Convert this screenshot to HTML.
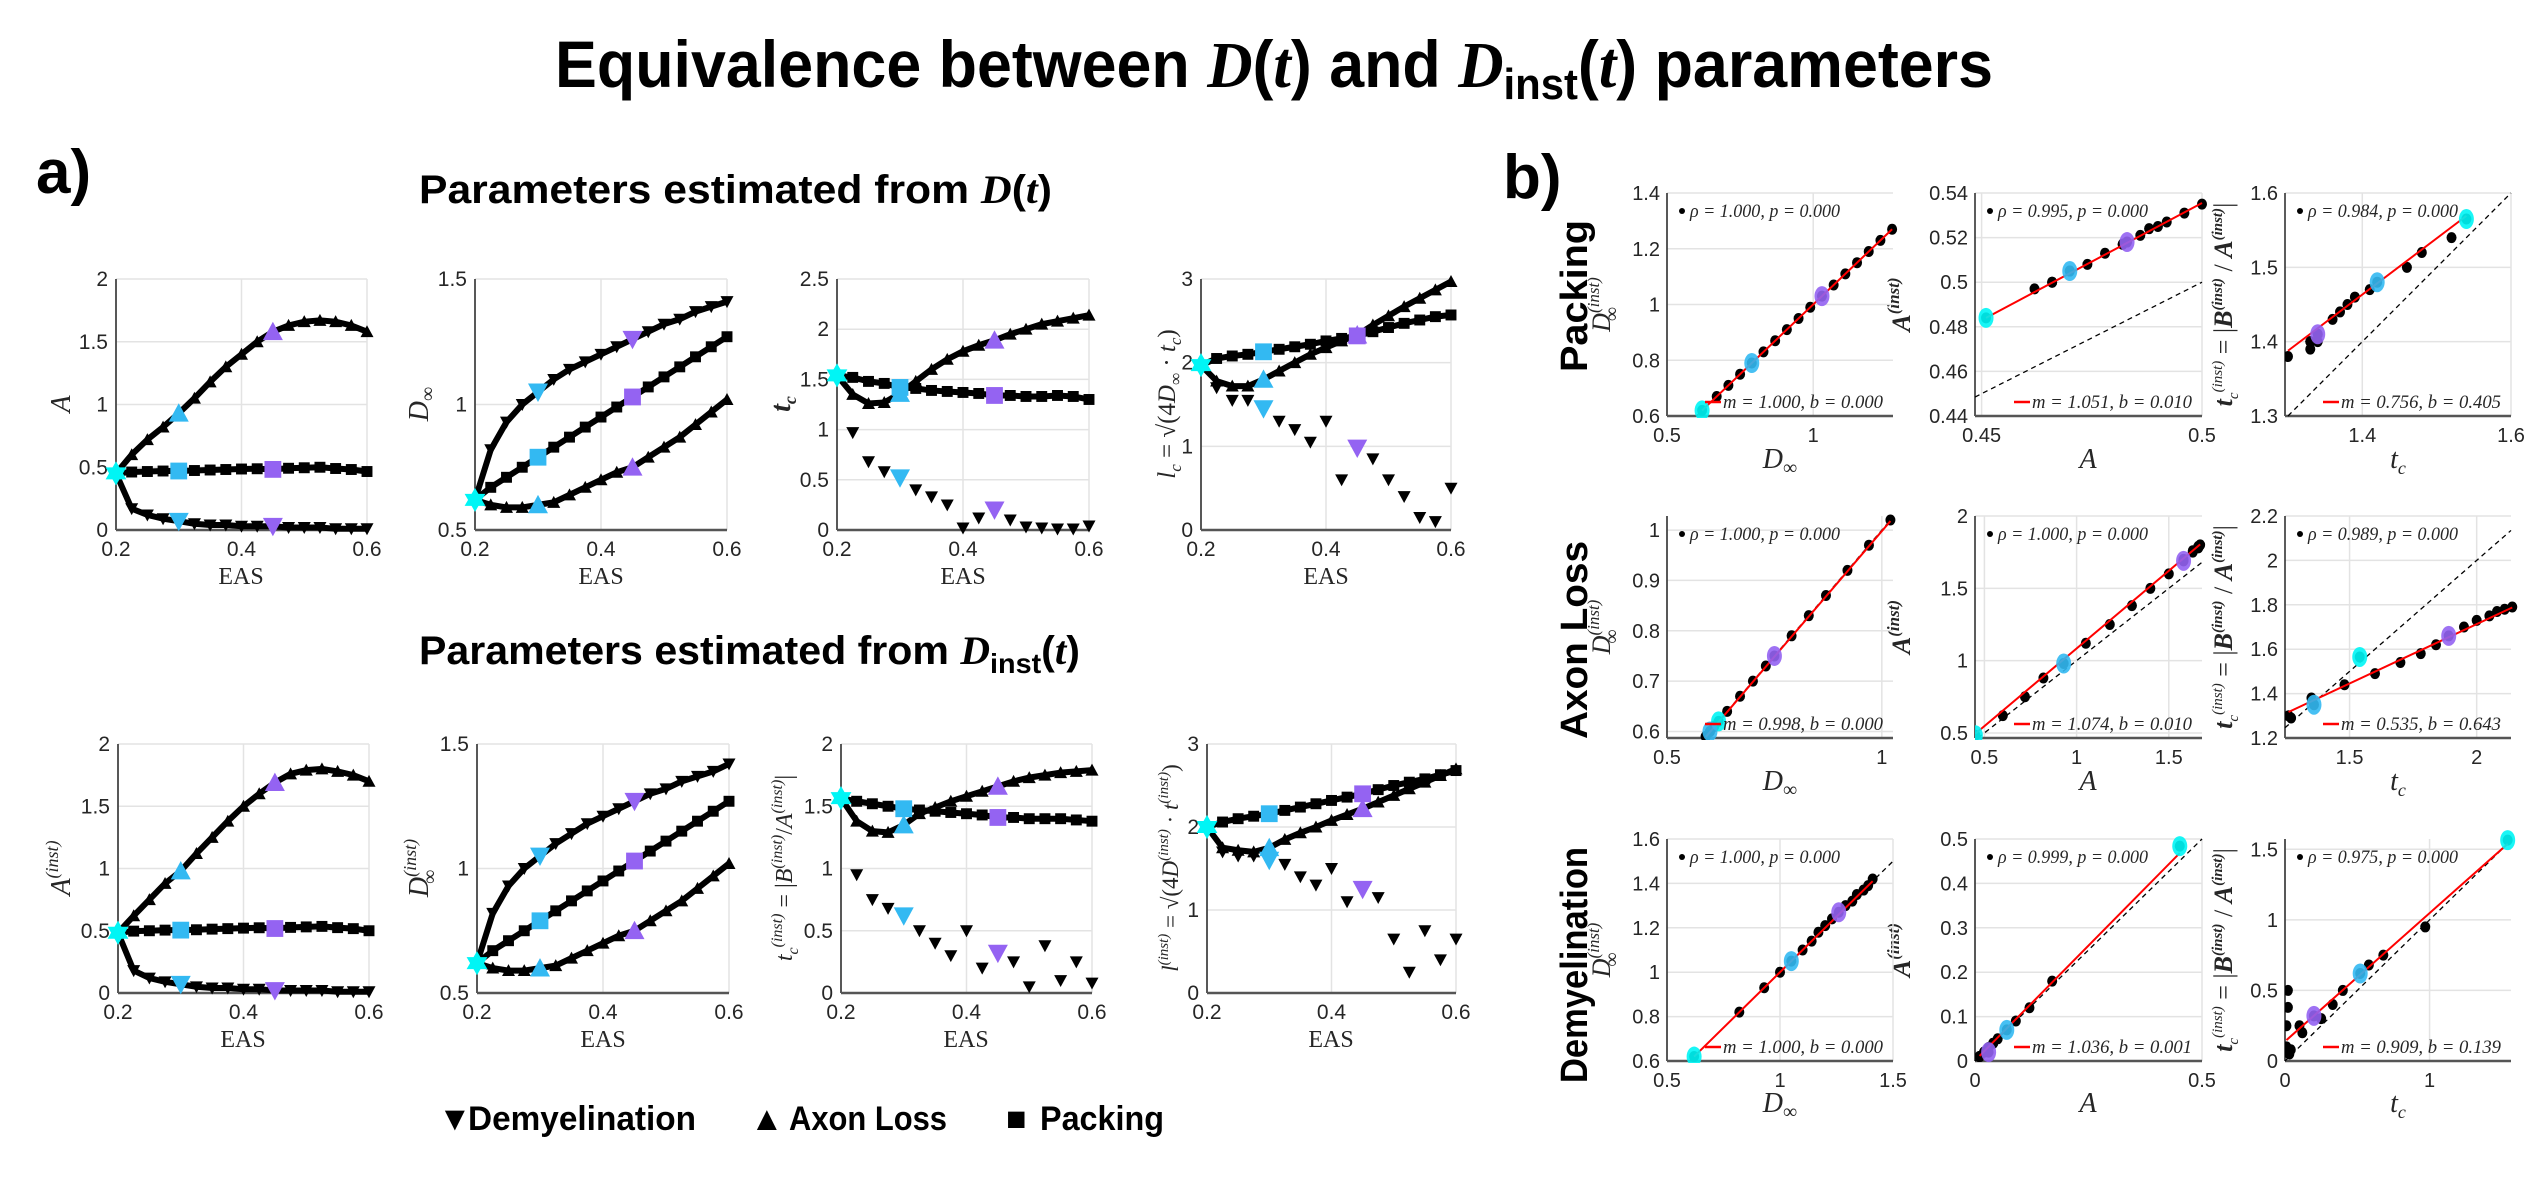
<!DOCTYPE html>
<html><head><meta charset="utf-8"><style>
html,body{margin:0;padding:0;background:#fff;}
svg{display:block;}
.tk{font-family:"Liberation Sans",sans-serif;font-size:21px;fill:#262626;}
.bt{font-family:"Liberation Sans",sans-serif;font-size:20px;fill:#262626;}
.ser{font-family:"Liberation Serif",serif;fill:#262626;}
.hd{font-family:"Liberation Sans",sans-serif;font-weight:bold;fill:#000;}
</style></head><body>
<svg id="fig" width="2545" height="1179" viewBox="0 0 2545 1179" xmlns="http://www.w3.org/2000/svg">
<rect x="0" y="0" width="2545" height="1179" fill="#fff"/>
<text class="hd" x="555" y="87" font-size="66" textLength="1438" lengthAdjust="spacingAndGlyphs">Equivalence between <tspan font-family="Liberation Serif" font-style="italic">D</tspan>(<tspan font-family="Liberation Serif" font-style="italic">t</tspan>) and <tspan font-family="Liberation Serif" font-style="italic">D</tspan><tspan font-size="44" dy="12">inst</tspan><tspan dy="-12">(</tspan><tspan font-family="Liberation Serif" font-style="italic">t</tspan>) parameters</text>
<text class="hd" x="36" y="193" font-size="62">a)</text>
<text class="hd" x="1503" y="198" font-size="62">b)</text>
<text class="hd" x="419" y="203" font-size="40" textLength="633" lengthAdjust="spacingAndGlyphs">Parameters estimated from <tspan font-family="Liberation Serif" font-style="italic">D</tspan>(<tspan font-family="Liberation Serif" font-style="italic">t</tspan>)</text>
<text class="hd" x="419" y="664" font-size="40" textLength="661" lengthAdjust="spacingAndGlyphs">Parameters estimated from <tspan font-family="Liberation Serif" font-style="italic">D</tspan><tspan font-size="28" dy="9">inst</tspan><tspan dy="-9">(</tspan><tspan font-family="Liberation Serif" font-style="italic">t</tspan>)</text>

<text class="ser" x="241" y="584" font-size="24" text-anchor="middle">EAS</text>
<text class="ser" x="601" y="584" font-size="24" text-anchor="middle">EAS</text>
<text class="ser" x="963" y="584" font-size="24" text-anchor="middle">EAS</text>
<text class="ser" x="1326" y="584" font-size="24" text-anchor="middle">EAS</text>
<text class="ser" x="243" y="1047" font-size="24" text-anchor="middle">EAS</text>
<text class="ser" x="603" y="1047" font-size="24" text-anchor="middle">EAS</text>
<text class="ser" x="966" y="1047" font-size="24" text-anchor="middle">EAS</text>
<text class="ser" x="1331" y="1047" font-size="24" text-anchor="middle">EAS</text>

<text class="ser" font-size="28" font-style="italic" text-anchor="middle" transform="translate(70 404) rotate(-90)">A</text>
<text class="ser" font-size="28" font-style="italic" text-anchor="middle" transform="translate(428 404) rotate(-90)">D<tspan font-size="20" dy="6" font-style="normal">∞</tspan></text>
<text class="ser" font-size="28" font-style="italic" font-weight="bold" text-anchor="middle" transform="translate(790 404) rotate(-90)">t<tspan font-size="18" dy="6">c</tspan></text>
<text class="ser" font-size="25" font-style="italic" text-anchor="middle" transform="translate(1175 404) rotate(-90)">l<tspan font-size="17" dy="6">c</tspan><tspan dy="-6" font-style="normal"> = √(4</tspan>D<tspan font-size="17" dy="6" font-style="normal">∞</tspan><tspan dy="-6" font-style="normal"> · </tspan>t<tspan font-size="17" dy="6">c</tspan><tspan dy="-6" font-style="normal">)</tspan></text>
<text class="ser" font-size="28" font-style="italic" text-anchor="middle" transform="translate(70 868) rotate(-90)">A<tspan font-size="18" dy="-12">(inst)</tspan></text>
<text class="ser" font-size="28" font-style="italic" text-anchor="middle" transform="translate(428 868) rotate(-90)">D<tspan font-size="18" dy="-12">(inst)</tspan><tspan font-size="20" dx="-45" dy="20" font-style="normal">∞</tspan></text>
<text class="ser" font-size="24" font-style="italic" text-anchor="middle" transform="translate(792 868) rotate(-90)">t<tspan font-size="16" dy="6">c</tspan><tspan font-size="16" dy="-16">(inst)</tspan><tspan dy="10" font-style="normal"> = |</tspan>B<tspan font-size="16" dy="-10">(inst)</tspan><tspan dy="10" font-style="normal">/</tspan>A<tspan font-size="16" dy="-10">(inst)</tspan><tspan dy="10" font-style="normal">|</tspan></text>
<text class="ser" font-size="23" font-style="italic" text-anchor="middle" transform="translate(1178 868) rotate(-90)">l<tspan font-size="15" dy="-10">(inst)</tspan><tspan dy="10" font-style="normal"> = √(4</tspan>D<tspan font-size="15" dy="-10">(inst)</tspan><tspan dy="10" font-style="normal"> · </tspan>t<tspan font-size="15" dy="-10">(inst)</tspan><tspan dy="10" font-style="normal">)</tspan></text>

<text class="hd" font-size="38" text-anchor="middle" textLength="152" lengthAdjust="spacingAndGlyphs" transform="translate(1587 296) rotate(-90)">Packing</text>
<text class="hd" font-size="38" text-anchor="middle" textLength="198" lengthAdjust="spacingAndGlyphs" transform="translate(1587 640) rotate(-90)">Axon Loss</text>
<text class="hd" font-size="38" text-anchor="middle" textLength="236" lengthAdjust="spacingAndGlyphs" transform="translate(1587 965) rotate(-90)">Demyelination</text>

<text class="ser" x="1780" y="468" font-size="28" font-style="italic" text-anchor="middle">D<tspan font-size="20" dy="6" font-style="normal">∞</tspan></text>
<text class="ser" x="2088" y="468" font-size="28" font-style="italic" text-anchor="middle">A</text>
<text class="ser" x="2398" y="468" font-size="28" font-style="italic" text-anchor="middle">t<tspan font-size="18" dy="6">c</tspan></text>
<text class="ser" x="1780" y="790" font-size="28" font-style="italic" text-anchor="middle">D<tspan font-size="20" dy="6" font-style="normal">∞</tspan></text>
<text class="ser" x="2088" y="790" font-size="28" font-style="italic" text-anchor="middle">A</text>
<text class="ser" x="2398" y="790" font-size="28" font-style="italic" text-anchor="middle">t<tspan font-size="18" dy="6">c</tspan></text>
<text class="ser" x="1780" y="1112" font-size="28" font-style="italic" text-anchor="middle">D<tspan font-size="20" dy="6" font-style="normal">∞</tspan></text>
<text class="ser" x="2088" y="1112" font-size="28" font-style="italic" text-anchor="middle">A</text>
<text class="ser" x="2398" y="1112" font-size="28" font-style="italic" text-anchor="middle">t<tspan font-size="18" dy="6">c</tspan></text>

<g id="bylabels"></g>

<g>
<text class="hd" x="438" y="1130" font-size="34">▼</text>
<text class="hd" x="468" y="1130" font-size="34" textLength="228" lengthAdjust="spacingAndGlyphs">Demyelination</text>
<text class="hd" x="750" y="1130" font-size="34">▲</text>
<text class="hd" x="789" y="1130" font-size="34" textLength="158" lengthAdjust="spacingAndGlyphs">Axon Loss</text>
<text class="hd" x="1006" y="1130" font-size="34">■</text>
<text class="hd" x="1040" y="1130" font-size="34" textLength="124" lengthAdjust="spacingAndGlyphs">Packing</text>
</g>
<g id="plots"></g>
</svg>
<script>
const EAS = [0.2,0.225,0.25,0.275,0.3,0.325,0.35,0.375,0.4,0.425,0.45,0.475,0.5,0.525,0.55,0.575,0.6];
const A_axon = [0.451,0.6,0.72,0.82,0.93,1.05,1.18,1.3,1.4,1.5,1.58,1.63,1.66,1.67,1.66,1.63,1.58];
const A_pack = [0.451,0.462,0.466,0.47,0.47,0.474,0.478,0.482,0.486,0.488,0.483,0.492,0.496,0.5,0.49,0.482,0.466];
const A_demy = [0.451,0.17,0.12,0.09,0.07,0.05,0.04,0.04,0.03,0.03,0.03,0.02,0.02,0.02,0.01,0.01,0.01];
const Dinf_demy = [0.62,0.82,0.93,1.0,1.05,1.1,1.14,1.17,1.2,1.23,1.26,1.29,1.32,1.34,1.37,1.39,1.41];
const Dinf_pack = [0.62,0.67,0.71,0.75,0.79,0.83,0.87,0.91,0.95,0.99,1.03,1.07,1.11,1.15,1.19,1.23,1.27];
const Dinf_axon = [0.62,0.6,0.59,0.59,0.6,0.61,0.64,0.67,0.7,0.73,0.75,0.79,0.83,0.87,0.92,0.97,1.02];
const tc_axon = [1.54,1.35,1.26,1.27,1.36,1.48,1.6,1.7,1.78,1.84,1.89,1.95,2.0,2.05,2.08,2.11,2.14];
const tc_pack = [1.54,1.52,1.48,1.46,1.42,1.41,1.39,1.38,1.37,1.36,1.34,1.34,1.33,1.33,1.34,1.33,1.3];
const tc_demy = [1.54,0.97,0.68,0.58,0.52,0.4,0.33,0.25,0.02,0.12,0.2,0.1,0.03,0.02,0.01,0.01,0.04];
const lc_pack = [1.97,2.05,2.08,2.1,2.13,2.16,2.19,2.22,2.26,2.29,2.32,2.37,2.42,2.47,2.51,2.55,2.57];
const lc_axon = [1.97,1.78,1.72,1.72,1.8,1.9,2.0,2.1,2.18,2.26,2.33,2.45,2.56,2.67,2.77,2.87,2.97];
const lc_demy = [1.97,1.7,1.55,1.55,1.45,1.3,1.2,1.05,1.3,0.6,0.98,0.85,0.6,0.4,0.15,0.1,0.5];
const Ai_axon = [0.484,0.62,0.75,0.88,0.98,1.12,1.25,1.38,1.5,1.6,1.69,1.76,1.79,1.8,1.78,1.75,1.7];
const Ai_pack = [0.484,0.497,0.5,0.505,0.505,0.508,0.513,0.517,0.521,0.524,0.518,0.527,0.531,0.535,0.525,0.517,0.5];
const Ai_demy = [0.484,0.18,0.12,0.09,0.07,0.05,0.04,0.04,0.03,0.03,0.02,0.02,0.02,0.02,0.01,0.01,0.01];
const Dinfi_demy = [0.62,0.82,0.93,1.0,1.05,1.1,1.14,1.18,1.21,1.24,1.27,1.3,1.32,1.35,1.37,1.39,1.42];
const Dinfi_pack = [0.62,0.67,0.71,0.75,0.79,0.83,0.87,0.91,0.95,0.99,1.03,1.07,1.11,1.15,1.19,1.23,1.27];
const Dinfi_axon = [0.62,0.6,0.59,0.59,0.6,0.61,0.64,0.67,0.7,0.73,0.75,0.79,0.83,0.87,0.92,0.97,1.02];
const tci_axon = [1.565,1.38,1.3,1.29,1.35,1.44,1.49,1.54,1.58,1.62,1.66,1.7,1.73,1.75,1.77,1.78,1.79];
const tci_pack = [1.565,1.54,1.52,1.5,1.48,1.47,1.46,1.45,1.44,1.43,1.41,1.41,1.4,1.4,1.4,1.39,1.38];
const tci_demy = [1.565,0.95,0.75,0.68,0.62,0.5,0.4,0.3,0.5,0.2,0.32,0.25,0.05,0.38,0.1,0.25,0.08];
const lci_pack = [2.0,2.06,2.1,2.13,2.16,2.2,2.24,2.28,2.32,2.36,2.4,2.45,2.5,2.54,2.58,2.63,2.68];
const lci_axon = [2.0,1.75,1.72,1.7,1.75,1.85,1.93,2.0,2.08,2.15,2.22,2.3,2.38,2.46,2.54,2.62,2.7];
const lci_demy = [2.0,1.7,1.65,1.65,1.6,1.55,1.4,1.3,1.5,1.1,1.25,1.15,0.65,0.25,0.75,0.4,0.65];
const EAS_ticks = [0.2,0.4,0.6];
const HL_BLUE = 4, HL_PURPLE = 10;
const fitM_pack = [1.000,1.051,0.756];
const fitB_pack = [0.000,0.010,0.405];
const rho_pack = [1.000,0.995,0.984];
const fitM_axon = [0.998,1.074,0.535];
const fitB_axon = [0.000,0.010,0.643];
const rho_axon = [1.000,1.000,0.989];
const fitM_demy = [1.000,1.036,0.909];
const fitB_demy = [0.000,0.001,0.139];
const rho_demy = [1.000,0.999,0.975];

const NS = 'http://www.w3.org/2000/svg';
const root = document.getElementById('plots');
function mk(parent, tag, attrs, name) {
  const el = document.createElementNS(NS, tag);
  for (const k in attrs) el.setAttribute(k, attrs[k]);
  
  
  parent.appendChild(el);
  return el;
}
function marker(g, shape, cx, cy, s, fill, name) {
  let pts;
  if (shape === 'down') pts = [[cx - s/2, cy - s*0.42], [cx + s/2, cy - s*0.42], [cx, cy + s*0.5]];
  else if (shape === 'up') pts = [[cx - s/2, cy + s*0.42], [cx + s/2, cy + s*0.42], [cx, cy - s*0.5]];
  if (shape === 'square') {
    return mk(g, 'rect', {x: cx - s*0.42, y: cy - s*0.42, width: s*0.84, height: s*0.84, fill: fill}, name);
  }
  if (shape === 'hex') {
    const gg = mk(g, 'g', {}, name);
    const r = s/2;
    mk(gg, 'polygon', {points: [[cx, cy - r], [cx + r*0.866, cy + r/2], [cx - r*0.866, cy + r/2]].map(p => p.join(',')).join(' '), fill: fill}, 'hexagram-part');
    mk(gg, 'polygon', {points: [[cx, cy + r], [cx + r*0.866, cy - r/2], [cx - r*0.866, cy - r/2]].map(p => p.join(',')).join(' '), fill: fill}, 'hexagram-part');
    return gg;
  }
  return mk(g, 'polygon', {points: pts.map(p => p.join(',')).join(' '), fill: fill}, name);
}
const CYAN = '#00f5f5', BLUE = '#33b9f2', PURPLE = '#9463f2';

function axesFrame(g, p, xt, yt, cls, tickDx, tickDy) {
  const sx = v => p.x0 + (v - p.xmin) / (p.xmax - p.xmin) * p.w;
  const sy = v => p.y0 + p.h - (v - p.ymin) / (p.ymax - p.ymin) * p.h;
  xt.forEach(v => {
    const x = sx(v);
    mk(g, 'line', {x1: x, x2: x, y1: p.y0, y2: p.y0 + p.h, stroke: '#e3e3e3', 'stroke-width': 1.5}, 'x-gridline');
    const t = mk(g, 'text', {x: x, y: p.y0 + p.h + tickDy, 'text-anchor': 'middle', class: cls}, 'x-tick-label');
    t.textContent = String(v);
  });
  yt.forEach(v => {
    const y = sy(v);
    mk(g, 'line', {x1: p.x0, x2: p.x0 + p.w, y1: y, y2: y, stroke: '#e3e3e3', 'stroke-width': 1.5}, 'y-gridline');
    const t = mk(g, 'text', {x: p.x0 - tickDx, y: y + 7, 'text-anchor': 'end', class: cls}, 'y-tick-label');
    t.textContent = String(v);
  });
  mk(g, 'line', {x1: p.x0, x2: p.x0, y1: p.y0, y2: p.y0 + p.h, stroke: '#262626', 'stroke-width': 1.5}, 'y-axis-line');
  mk(g, 'line', {x1: p.x0, x2: p.x0 + p.w, y1: p.y0 + p.h, y2: p.y0 + p.h, stroke: '#555', 'stroke-width': 2.5}, 'x-axis-line');
  return [sx, sy];
}

function drawA(p, name) {
  const g = mk(root, 'g', {}, name);
  p.xmin = 0.2; p.xmax = 0.6;
  const [sx, sy] = axesFrame(g, p, EAS_ticks, p.yticks, 'tk', 8, 26);
  p.series.forEach(s => {
    const sg = mk(g, 'g', {}, s.name);
    if (!s.scatter) {
      mk(sg, 'polyline', {points: s.v.map((v, i) => sx(EAS[i]) + ',' + sy(v)).join(' '), fill: 'none', stroke: '#000', 'stroke-width': 6}, 'series-line');
    }
    s.v.forEach((v, i) => { if (i > 0) marker(sg, s.shape, sx(EAS[i]), sy(v), 13, '#000', 'data-marker'); });
  });
  p.series.forEach(s => {
    marker(g, s.shape, sx(EAS[HL_BLUE]), sy(s.v[HL_BLUE]), 20, BLUE, 'highlight-eas-0.30');
    marker(g, s.shape, sx(EAS[HL_PURPLE]), sy(s.v[HL_PURPLE]), 20, PURPLE, 'highlight-eas-0.45');
  });
  marker(g, 'hex', sx(EAS[0]), sy(p.series[0].v[0]), 24, CYAN, 'highlight-eas-0.20');
}

const T = {y0: 279, h: 251}, B = {y0: 744, h: 249};
drawA({x0: 116, w: 251, y0: T.y0, h: T.h, ymin: 0, ymax: 2, yticks: [0,0.5,1,1.5,2],
  series: [{v: A_pack, shape: 'square', name: 'series-packing'}, {v: A_axon, shape: 'up', name: 'series-axon-loss'}, {v: A_demy, shape: 'down', name: 'series-demyelination'}]}, 'plot-a');
drawA({x0: 475, w: 252, y0: T.y0, h: T.h, ymin: 0.5, ymax: 1.5, yticks: [0.5,1,1.5],
  series: [{v: Dinf_pack, shape: 'square', name: 'series-packing'}, {v: Dinf_axon, shape: 'up', name: 'series-axon-loss'}, {v: Dinf_demy, shape: 'down', name: 'series-demyelination'}]}, 'plot-dinf');
drawA({x0: 837, w: 252, y0: T.y0, h: T.h, ymin: 0, ymax: 2.5, yticks: [0,0.5,1,1.5,2,2.5],
  series: [{v: tc_pack, shape: 'square', name: 'series-packing'}, {v: tc_axon, shape: 'up', name: 'series-axon-loss'}, {v: tc_demy, shape: 'down', scatter: true, name: 'series-demyelination'}]}, 'plot-tc');
drawA({x0: 1201, w: 250, y0: T.y0, h: T.h, ymin: 0, ymax: 3, yticks: [0,1,2,3],
  series: [{v: lc_pack, shape: 'square', name: 'series-packing'}, {v: lc_axon, shape: 'up', name: 'series-axon-loss'}, {v: lc_demy, shape: 'down', scatter: true, name: 'series-demyelination'}]}, 'plot-lc');
drawA({x0: 118, w: 251, y0: B.y0, h: B.h, ymin: 0, ymax: 2, yticks: [0,0.5,1,1.5,2],
  series: [{v: Ai_pack, shape: 'square', name: 'series-packing'}, {v: Ai_axon, shape: 'up', name: 'series-axon-loss'}, {v: Ai_demy, shape: 'down', name: 'series-demyelination'}]}, 'plot-a-inst');
drawA({x0: 477, w: 252, y0: B.y0, h: B.h, ymin: 0.5, ymax: 1.5, yticks: [0.5,1,1.5],
  series: [{v: Dinfi_pack, shape: 'square', name: 'series-packing'}, {v: Dinfi_axon, shape: 'up', name: 'series-axon-loss'}, {v: Dinfi_demy, shape: 'down', name: 'series-demyelination'}]}, 'plot-dinf-inst');
drawA({x0: 841, w: 251, y0: B.y0, h: B.h, ymin: 0, ymax: 2, yticks: [0,0.5,1,1.5,2],
  series: [{v: tci_pack, shape: 'square', name: 'series-packing'}, {v: tci_axon, shape: 'up', name: 'series-axon-loss'}, {v: tci_demy, shape: 'down', scatter: true, name: 'series-demyelination'}]}, 'plot-tc-inst');
drawA({x0: 1207, w: 249, y0: B.y0, h: B.h, ymin: 0, ymax: 3, yticks: [0,1,2,3],
  series: [{v: lci_pack, shape: 'square', name: 'series-packing'}, {v: lci_axon, shape: 'up', name: 'series-axon-loss'}, {v: lci_demy, shape: 'down', scatter: true, name: 'series-demyelination'}]}, 'plot-lc-inst');

function drawB(p, name) {
  const g = mk(root, 'g', {}, name);
  const [sx, sy] = axesFrame(g, p, p.xticks, p.yticks, 'bt', 7, 26);
  const clipId = 'clip-' + name;
  const cp = mk(g, 'clipPath', {id: clipId}, 'clip');
  mk(cp, 'rect', {x: p.x0, y: p.y0 - 12, width: p.w + 12, height: p.h + 14}, 'clip-rect');
  const lo = Math.max(p.xmin, p.ymin), hi = Math.min(p.xmax, p.ymax);
  if (hi > lo) mk(g, 'line', {x1: sx(lo), y1: sy(lo), x2: sx(hi), y2: sy(hi), stroke: '#000', 'stroke-width': 1.3, 'stroke-dasharray': '5,4'}, 'identity-line');
  const dg = mk(g, 'g', {'clip-path': 'url(#' + clipId + ')'}, 'scatter-points');
  p.xs.forEach((x, i) => mk(dg, 'ellipse', {cx: sx(x), cy: sy(p.ys[i]), rx: 5, ry: 5.5, fill: '#000'}, 'data-point'));
  const xmn = Math.min(...p.xs), xmx = Math.max(...p.xs);
  mk(dg, 'line', {x1: sx(xmn), y1: sy(p.m * xmn + p.b), x2: sx(xmx), y2: sy(p.m * xmx + p.b), stroke: '#f00', 'stroke-width': 2}, 'fit-line');
  [[0, CYAN], [HL_BLUE, BLUE], [HL_PURPLE, PURPLE]].forEach(([i, c]) =>
    mk(dg, 'ellipse', {cx: sx(p.xs[i]), cy: sy(p.ys[i]), rx: 7.5, ry: 10, fill: c, 'fill-opacity': 0.9}, 'highlight-point'));
  mk(g, 'circle', {cx: p.x0 + 15, cy: p.y0 + 18, r: 3, fill: '#000'}, 'legend-dot');
  const rt = mk(g, 'text', {x: p.x0 + 23, y: p.y0 + 24, class: 'ser', 'font-size': 19, 'font-style': 'italic', textLength: 150, lengthAdjust: 'spacingAndGlyphs'}, 'correlation-annotation');
  rt.textContent = 'ρ = ' + p.rho.toFixed(3) + ', p = 0.000';
  mk(g, 'line', {x1: p.x0 + p.w - 188, x2: p.x0 + p.w - 172, y1: p.y0 + p.h - 14, y2: p.y0 + p.h - 14, stroke: '#f00', 'stroke-width': 2.5}, 'fit-legend-swatch');
  const mt = mk(g, 'text', {x: p.x0 + p.w - 170, y: p.y0 + p.h - 8, class: 'ser', 'font-size': 19, 'font-style': 'italic', textLength: 160, lengthAdjust: 'spacingAndGlyphs'}, 'fit-annotation');
  mt.textContent = 'm = ' + p.m.toFixed(3) + ', b = ' + p.b.toFixed(3);
}
const BC = [{x0: 1667, w: 226}, {x0: 1975, w: 227}, {x0: 2285, w: 226}];
const BR = [{y0: 193, h: 223}, {y0: 516, h: 222}, {y0: 839, h: 222}];
function bp(c, r, o) { return Object.assign({x0: BC[c].x0, w: BC[c].w, y0: BR[r].y0, h: BR[r].h}, o); }
drawB(bp(0,0,{xmin:0.5,xmax:1.273,ymin:0.6,ymax:1.4,xticks:[0.5,1],yticks:[0.6,0.8,1,1.2,1.4],xs:Dinf_pack,ys:Dinfi_pack,m:fitM_pack[0],b:fitB_pack[0],rho:rho_pack[0]}),'plot-b-packing-dinf');
drawB(bp(1,0,{xmin:0.4485,xmax:0.5,ymin:0.44,ymax:0.54,xticks:[0.45,0.5],yticks:[0.44,0.46,0.48,0.5,0.52,0.54],xs:A_pack,ys:Ai_pack,m:fitM_pack[1],b:fitB_pack[1],rho:rho_pack[1]}),'plot-b-packing-a');
drawB(bp(2,0,{xmin:1.296,xmax:1.6,ymin:1.3,ymax:1.6,xticks:[1.4,1.6],yticks:[1.3,1.4,1.5,1.6],xs:tc_pack,ys:tci_pack,m:fitM_pack[2],b:fitB_pack[2],rho:rho_pack[2]}),'plot-b-packing-tc');
drawB(bp(0,1,{xmin:0.5,xmax:1.026,ymin:0.587,ymax:1.028,xticks:[0.5,1],yticks:[0.6,0.7,0.8,0.9,1],xs:Dinf_axon,ys:Dinfi_axon,m:fitM_axon[0],b:fitB_axon[0],rho:rho_axon[0]}),'plot-b-axon-dinf');
drawB(bp(1,1,{xmin:0.449,xmax:1.68,ymin:0.465,ymax:2,xticks:[0.5,1,1.5],yticks:[0.5,1,1.5,2],xs:A_axon,ys:Ai_axon,m:fitM_axon[1],b:fitB_axon[1],rho:rho_axon[1]}),'plot-b-axon-a');
drawB(bp(2,1,{xmin:1.246,xmax:2.135,ymin:1.2,ymax:2.2,xticks:[1.5,2],yticks:[1.2,1.4,1.6,1.8,2,2.2],xs:tc_axon,ys:tci_axon,m:fitM_axon[2],b:fitB_axon[2],rho:rho_axon[2]}),'plot-b-axon-tc');
drawB(bp(0,2,{xmin:0.5,xmax:1.5,ymin:0.6,ymax:1.6,xticks:[0.5,1,1.5],yticks:[0.6,0.8,1,1.2,1.4,1.6],xs:Dinf_demy,ys:Dinfi_demy,m:fitM_demy[0],b:fitB_demy[0],rho:rho_demy[0]}),'plot-b-demy-dinf');
drawB(bp(1,2,{xmin:0,xmax:0.5,ymin:0,ymax:0.5,xticks:[0,0.5],yticks:[0,0.1,0.2,0.3,0.4,0.5],xs:A_demy,ys:Ai_demy,m:fitM_demy[1],b:fitB_demy[1],rho:rho_demy[1]}),'plot-b-demy-a');
drawB(bp(2,2,{xmin:0,xmax:1.563,ymin:0,ymax:1.573,xticks:[0,1],yticks:[0,0.5,1,1.5],xs:tc_demy,ys:tci_demy,m:fitM_demy[2],b:fitB_demy[2],rho:rho_demy[2]}),'plot-b-demy-tc');

const yl = document.getElementById('bylabels');
const yTitles = [
  [1610, '<tspan font-style="italic">D</tspan><tspan font-size="17" dy="-11" font-style="italic">(inst)</tspan><tspan font-size="20" dx="-44" dy="19">∞</tspan>'],
  [1910, '<tspan font-style="italic" font-weight="bold">A</tspan><tspan font-size="17" dy="-11" font-style="italic" font-weight="bold">(inst)</tspan>'],
  [2232, '<tspan font-style="italic" font-weight="bold">t</tspan><tspan font-size="15" dy="6" font-style="italic">c</tspan><tspan font-size="15" dy="-16" font-style="italic">(inst)</tspan><tspan dy="10"> = |</tspan><tspan font-style="italic" font-weight="bold">B</tspan><tspan font-size="15" dy="-10" font-style="italic" font-weight="bold">(inst)</tspan><tspan dy="10"> / </tspan><tspan font-style="italic" font-weight="bold">A</tspan><tspan font-size="15" dy="-10" font-style="italic" font-weight="bold">(inst)</tspan><tspan dy="10">|</tspan>']
];
BR.forEach((r, ri) => {
  yTitles.forEach(([x, html], ci) => {
    const cy = r.y0 + r.h / 2;
    const t = mk(yl, 'text', {class: 'ser', 'font-size': 26, 'text-anchor': 'middle', transform: 'translate(' + x + ' ' + cy + ') rotate(-90)'}, 'y-axis-title-b');
    t.innerHTML = html;
  });
});
</script>
</body></html>
